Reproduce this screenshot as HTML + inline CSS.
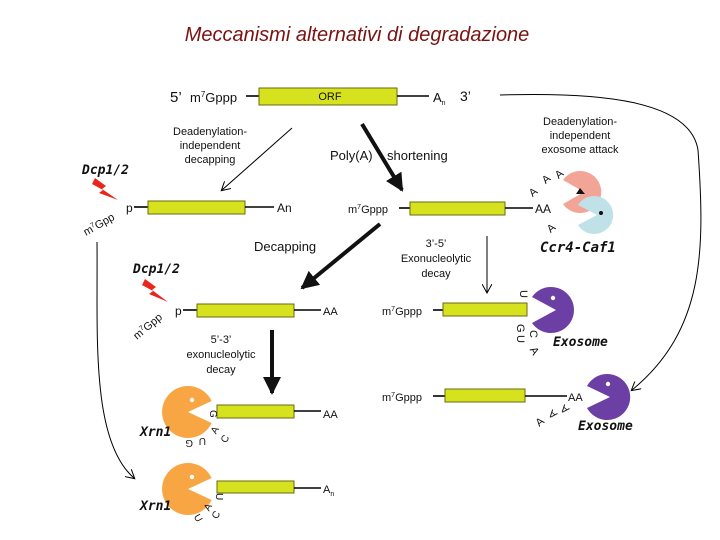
<!DOCTYPE html>
<html><head><meta charset="utf-8"><style>
html,body{margin:0;padding:0;background:#fff;width:720px;height:540px;overflow:hidden}
svg text{font-family:"Liberation Sans",sans-serif;fill:#111}
.b{fill:#d6e21e;stroke:#6b6a10;stroke-width:1}
.l{stroke:#000;stroke-width:1.6}
.it{font-style:italic;font-weight:bold;font-family:"DejaVu Sans Mono","Liberation Mono",monospace}
</style></head><body>
<svg width="720" height="540" viewBox="0 0 720 540" xmlns="http://www.w3.org/2000/svg">
<defs>
<marker id="ta" markerWidth="10" markerHeight="10" refX="8" refY="5" orient="auto" markerUnits="userSpaceOnUse"><path d="M0,0 L9,5 L0,10" fill="none" stroke="#000" stroke-width="1"/></marker>
<marker id="TA" markerWidth="20" markerHeight="20" refX="16" refY="9" orient="auto" markerUnits="userSpaceOnUse"><path d="M0,0 L18,9 L0,18 Z" fill="#111"/></marker>
</defs>
<text x="357" y="41" text-anchor="middle" font-size="20" font-style="italic" style="fill:#7a1212">Meccanismi alternativi di degradazione</text>

<!-- top -->
<text x="170" y="102" font-size="15">5’</text>
<text x="190" y="102" font-size="13">m<tspan font-size="8" dy="-5">7</tspan><tspan dy="5">Gppp</tspan></text>
<line x1="246" y1="96" x2="259" y2="96" class="l"/>
<rect x="259" y="88" width="138" height="17" class="b"/>
<text x="330" y="100" font-size="11" text-anchor="middle">ORF</text>
<line x1="397" y1="96" x2="429" y2="96" class="l"/>
<text x="433" y="102" font-size="13">A<tspan font-size="7" dy="3">n</tspan></text>
<text x="460" y="101" font-size="14">3’</text>

<text x="210" y="135" font-size="11" text-anchor="middle">Deadenylation-</text>
<text x="210" y="149" font-size="11" text-anchor="middle">independent</text>
<text x="210" y="163" font-size="11" text-anchor="middle">decapping</text>
<line x1="292" y1="128" x2="222" y2="190" stroke="#000" stroke-width="1" marker-end="url(#ta)"/>

<line x1="362" y1="124" x2="402" y2="190" stroke="#111" stroke-width="4" marker-end="url(#TA)"/>
<text x="330" y="160" font-size="13">Poly(A)</text>
<text x="387" y="160" font-size="13">shortening</text>

<text x="580" y="125" font-size="11" text-anchor="middle">Deadenylation-</text>
<text x="580" y="139" font-size="11" text-anchor="middle">independent</text>
<text x="580" y="153" font-size="11" text-anchor="middle">exosome attack</text>
<path d="M500,95 C600,92 690,100 698,150 C705,250 705,330 632,390" fill="none" stroke="#000" stroke-width="1" marker-end="url(#ta)"/>

<!-- row2 left -->
<text x="82" y="174" font-size="13" class="it">Dcp1/2</text>
<path d="M95,178 L106,186 L102,189 L118,200 L99,193 L103,190 L92,184 Z" fill="#e8261e"/>
<text x="0" y="0" font-size="11" transform="translate(86,236) rotate(-30)">m<tspan font-size="7" dy="-4">7</tspan><tspan dy="4">Gpp</tspan></text>
<text x="126" y="212" font-size="12">p</text>
<line x1="134" y1="207" x2="148" y2="207" class="l"/>
<rect x="148" y="201" width="97" height="13" class="b"/>
<line x1="245" y1="207" x2="274" y2="207" class="l"/>
<text x="277" y="212" font-size="12">An</text>

<!-- row2 mid -->
<text x="348" y="213" font-size="11">m<tspan font-size="7" dy="-4">7</tspan><tspan dy="4">Gppp</tspan></text>
<line x1="399" y1="208" x2="410" y2="208" class="l"/>
<rect x="410" y="202" width="95" height="13" class="b"/>
<line x1="505" y1="208" x2="533" y2="208" class="l"/>
<text x="535" y="213" font-size="12">AA</text>
<text x="530" y="196" font-size="11" transform="rotate(-40 533 193)">A</text>
<text x="543" y="183" font-size="11" transform="rotate(-40 546 180)">A</text>
<text x="556" y="178" font-size="11" transform="rotate(-40 559 175)">A</text>
<text x="548" y="232" font-size="11" transform="rotate(-40 551 229)">A</text>
<path d="M584,192 L563,180 A21,21 0 1,1 563,204 Z" fill="#f2a596"/>
<polygon points="580,188 585,194 576,194" fill="#111"/>
<path d="M597,215 L578,205 A19,19 0 1,1 578,225 Z" fill="#bfe1e7"/>
<circle cx="601" cy="213" r="2" fill="#111"/>
<text x="540" y="252" font-size="14" class="it">Ccr4-Caf1</text>

<line x1="380" y1="224" x2="302" y2="288" stroke="#111" stroke-width="4" marker-end="url(#TA)"/>
<text x="254" y="251" font-size="13">Decapping</text>

<text x="436" y="247" font-size="11" text-anchor="middle">3’-5’</text>
<text x="436" y="262" font-size="11" text-anchor="middle">Exonucleolytic</text>
<text x="436" y="277" font-size="11" text-anchor="middle">decay</text>
<line x1="487" y1="236" x2="487" y2="292" stroke="#000" stroke-width="1" marker-end="url(#ta)"/>

<!-- row3 left -->
<text x="133" y="273" font-size="13" class="it">Dcp1/2</text>
<path d="M145,279 L156,287 L152,290 L168,302 L149,294 L153,291 L142,285 Z" fill="#e8261e"/>
<text x="0" y="0" font-size="11" transform="translate(137,340) rotate(-40)">m<tspan font-size="7" dy="-4">7</tspan><tspan dy="4">Gpp</tspan></text>
<text x="175" y="315" font-size="12">p</text>
<line x1="183" y1="310" x2="197" y2="310" class="l"/>
<rect x="197" y="304" width="97" height="13" class="b"/>
<line x1="294" y1="310" x2="321" y2="310" class="l"/>
<text x="323" y="315" font-size="11">AA</text>

<text x="221" y="343" font-size="11" text-anchor="middle">5’-3’</text>
<text x="221" y="358" font-size="11" text-anchor="middle">exonucleolytic</text>
<text x="221" y="373" font-size="11" text-anchor="middle">decay</text>
<line x1="272" y1="330" x2="272" y2="393" stroke="#111" stroke-width="4" marker-end="url(#TA)"/>

<!-- row3 right -->
<text x="382" y="315" font-size="11">m<tspan font-size="7" dy="-4">7</tspan><tspan dy="4">Gppp</tspan></text>
<line x1="433" y1="310" x2="443" y2="310" class="l"/>
<rect x="443" y="303" width="84" height="13" class="b"/>
<path d="M556,310 L532,297 A23,23 0 1,1 532,323 Z" fill="#6b3fa3"/>
<circle cx="553" cy="298" r="2.2" fill="#fff"/>
<text x="520" y="298" font-size="11" transform="rotate(90 524 294)">U</text>
<text x="517" y="332" font-size="11" transform="rotate(90 521 328)">G</text>
<text x="517" y="343" font-size="11" transform="rotate(90 521 339)">U</text>
<text x="530" y="338" font-size="11" transform="rotate(90 534 334)">C</text>
<text x="531" y="355" font-size="11" transform="rotate(60 535 351)">A</text>
<text x="553" y="346" font-size="13" class="it">Exosome</text>

<!-- row4 right -->
<text x="382" y="401" font-size="11">m<tspan font-size="7" dy="-4">7</tspan><tspan dy="4">Gppp</tspan></text>
<line x1="433" y1="396" x2="445" y2="396" class="l"/>
<rect x="445" y="389" width="80" height="13" class="b"/>
<line x1="525" y1="396" x2="567" y2="396" class="l"/>
<text x="568" y="401" font-size="11">AA</text>
<path d="M610,397 L587,386 A23,23 0 1,1 587,408 Z" fill="#6b3fa3"/>
<circle cx="608" cy="384" r="2.2" fill="#fff"/>
<text x="562" y="414" font-size="11" transform="rotate(-140 565 410)">A</text>
<text x="550" y="419" font-size="11" transform="rotate(-140 553 415)">A</text>
<text x="536" y="426" font-size="11" transform="rotate(-40 539 422)">A</text>
<text x="578" y="430" font-size="13" class="it">Exosome</text>

<!-- row4 left -->
<path d="M188,412 L211.6,401 A26,26 0 1,0 211.6,423 Z" fill="#f7a643"/>
<circle cx="192" cy="400" r="2.2" fill="#fff"/>
<rect x="217" y="405" width="77" height="13" class="b"/>
<line x1="294" y1="411" x2="321" y2="411" class="l"/>
<text x="323" y="418" font-size="11">AA</text>
<text x="210" y="418" font-size="10" transform="rotate(90 214 414)">G</text>
<text x="211" y="434" font-size="10" transform="rotate(-60 214 430)">A</text>
<text x="221" y="443" font-size="10" transform="rotate(-60 224 439)">C</text>
<text x="185" y="448" font-size="10" transform="rotate(180 189 444)">G</text>
<text x="198" y="446" font-size="10" transform="rotate(180 202 442)">U</text>
<text x="140" y="436" font-size="13" class="it">Xrn1</text>

<!-- row5 -->
<path d="M188,489 L211.6,478 A26,26 0 1,0 211.6,500 Z" fill="#f7a643"/>
<circle cx="192" cy="477" r="2.2" fill="#fff"/>
<rect x="217" y="481" width="77" height="12" class="b"/>
<line x1="294" y1="488" x2="321" y2="488" class="l"/>
<text x="323" y="493" font-size="11">A<tspan font-size="7" dy="3">n</tspan></text>
<text x="216" y="501" font-size="10" transform="rotate(90 220 497)">U</text>
<text x="204" y="511" font-size="10" transform="rotate(-60 207 507)">A</text>
<text x="212" y="519" font-size="10" transform="rotate(-60 215 515)">C</text>
<text x="195" y="522" font-size="10" transform="rotate(60 199 518)">U</text>
<text x="140" y="510" font-size="13" class="it">Xrn1</text>

<path d="M97,242 C98,330 90,440 134,478" fill="none" stroke="#000" stroke-width="1" marker-end="url(#ta)"/>
</svg>
</body></html>
